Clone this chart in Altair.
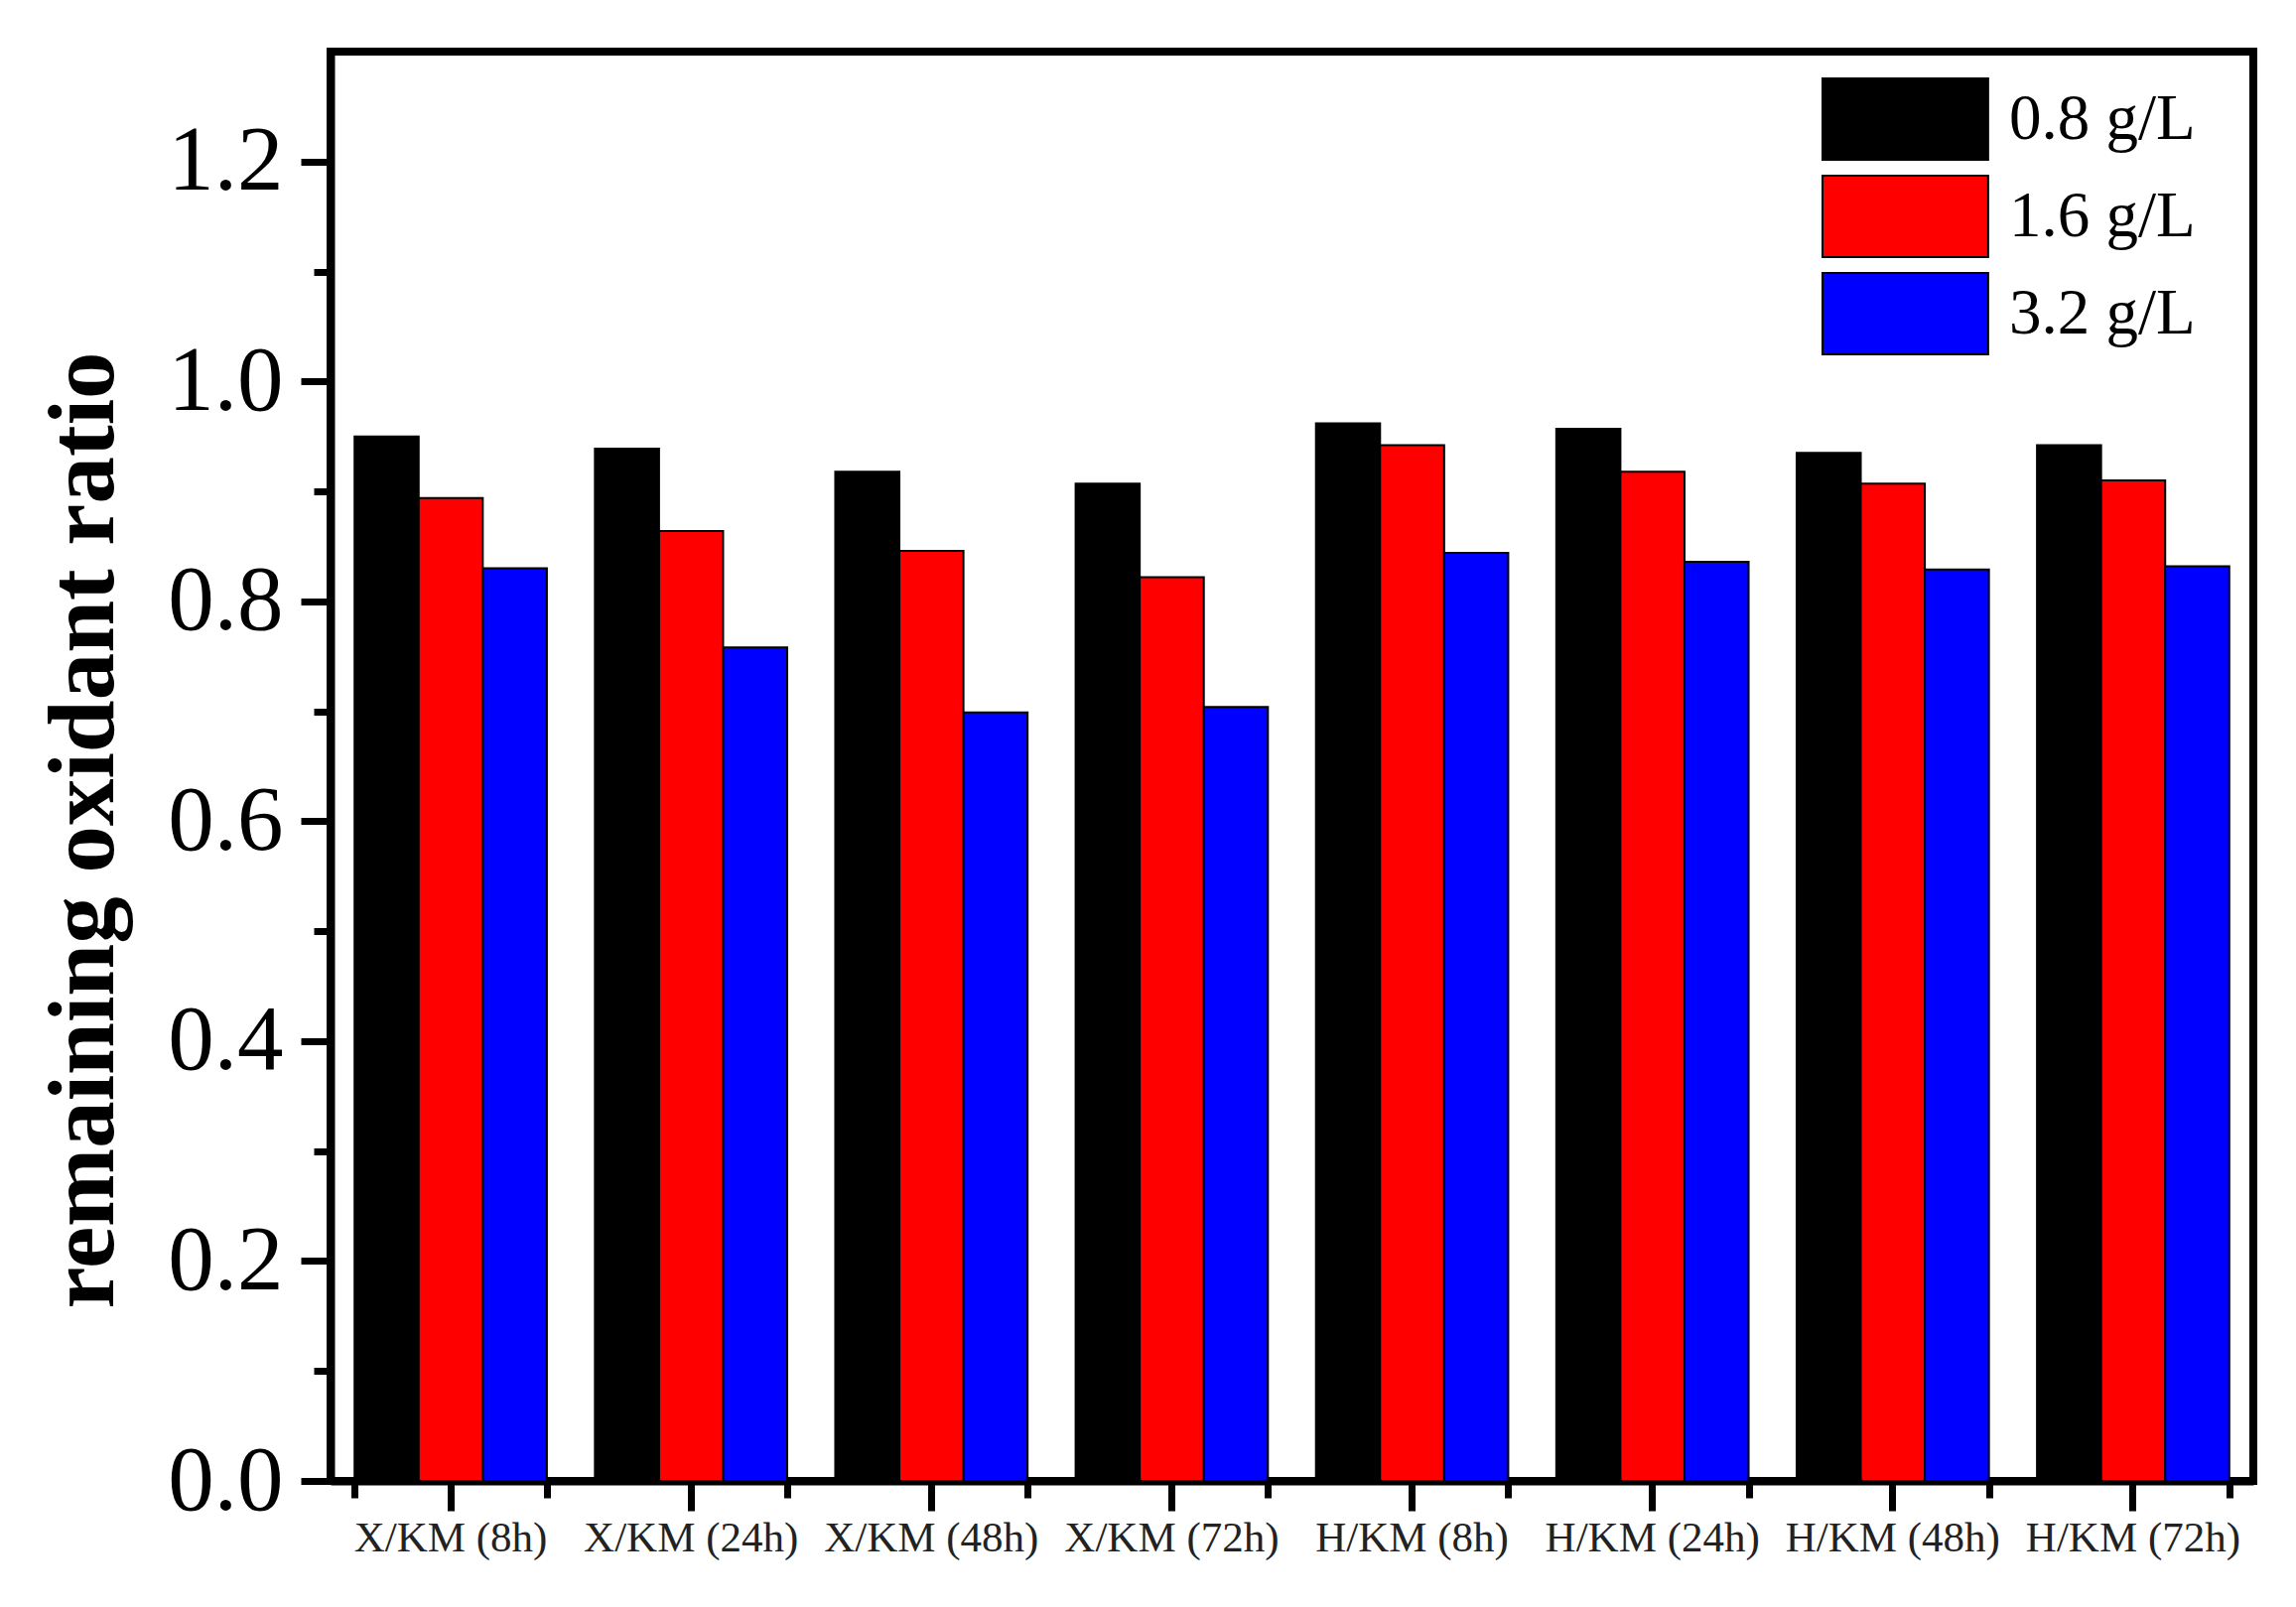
import altair as alt
import pandas as pd

categories = ["X/KM (8h)", "X/KM (24h)", "X/KM (48h)", "X/KM (72h)",
              "H/KM (8h)", "H/KM (24h)", "H/KM (48h)", "H/KM (72h)"]
series = ["0.8 g/L", "1.6 g/L", "3.2 g/L"]
vals_08 = [0.950, 0.939, 0.918, 0.907, 0.962, 0.957, 0.935, 0.942]
vals_16 = [0.894, 0.864, 0.846, 0.822, 0.942, 0.918, 0.907, 0.910]
vals_32 = [0.830, 0.758, 0.699, 0.704, 0.844, 0.836, 0.829, 0.832]
colors = ["#000000", "#ff0000", "#0000ff"]
major_ticks = [0.0, 0.2, 0.4, 0.6, 0.8, 1.0, 1.2]
minor_ticks = [0.1, 0.3, 0.5, 0.7, 0.9, 1.1]

rows = []
for s, vals in zip(series, [vals_08, vals_16, vals_32]):
    for c, v in zip(categories, vals):
        rows.append({"cat": c, "conc": s, "val": v})
df = pd.DataFrame(rows)

FONT = "'Times New Roman', 'Liberation Serif', Times, serif"

x_scale = alt.Scale(paddingInner=0.2, paddingOuter=0.1)
y_scale = alt.Scale(domain=[0, 1.3], nice=False, zero=True)
xo = alt.XOffset("conc:N", sort=series, scale=alt.Scale(paddingInner=0, paddingOuter=0))

bars = alt.Chart(df).mark_bar(stroke="black", strokeWidth=2).encode(
    x=alt.X("cat:N", sort=categories, scale=x_scale,
            axis=alt.Axis(title=None, labelAngle=0, labelFont=FONT, labelFontSize=43,
                          labelColor="#222222", labelLimit=500, tickSize=30, tickWidth=7,
                          tickColor="black", domainWidth=8, domainColor="black",
                          labelPadding=6, grid=False, orient="bottom")),
    xOffset=xo,
    y=alt.Y("val:Q", scale=y_scale,
            axis=alt.Axis(values=major_ticks, format=".1f", title="remaining oxidant ratio",
                          titleFont=FONT, titleFontSize=95, titleFontWeight="bold",
                          titleColor="black", titleAngle=270, titleX=-220, titleY=784,
                          titleAlign="center", titleBaseline="alphabetic", titleLimit=2000,
                          labelFont=FONT, labelFontSize=93, labelColor="black",
                          tickSize=30, tickWidth=7, tickColor="black", domainWidth=8,
                          domainColor="black", labelPadding=18, grid=False, orient="left")),
    color=alt.Color("conc:N", sort=series,
                    scale=alt.Scale(domain=series, range=colors),
                    legend=alt.Legend(title=None, orient="none", legendX=1502, legendY=26,
                                      padding=0, symbolType="M-1,-1H3.07V1H-1Z",
                                      symbolSize=6724, symbolStrokeColor="black",
                                      symbolStrokeWidth=2, symbolOpacity=1,
                                      labelFont=FONT, labelFontSize=65, labelColor="black",
                                      labelOffset=105, rowPadding=8, labelLimit=400)),
)

minor = alt.Chart(df).mark_bar(opacity=0).encode(
    x=alt.X("cat:N", sort=categories,
            axis=alt.Axis(title=None, labels=False, tickBand="extent", tickSize=17,
                          tickWidth=7, tickColor="black", domain=False, grid=False,
                          orient="bottom")),
    xOffset=xo,
    y=alt.Y("val:Q",
            axis=alt.Axis(values=minor_ticks, title=None, labels=False, tickSize=17,
                          tickWidth=7, tickColor="black", domain=False, grid=False,
                          orient="left")),
)

chart = alt.layer(bars, minor).resolve_axis(x="independent", y="independent").properties(
    width=1937, height=1440,
    autosize=alt.AutoSizeParams(type="none"),
    padding={"left": 325, "top": 44, "right": 35, "bottom": 110},
    background="white",
).configure_view(stroke="black", strokeWidth=8)

chart.save("out.html", embed_options={"renderer": "svg", "actions": False})
